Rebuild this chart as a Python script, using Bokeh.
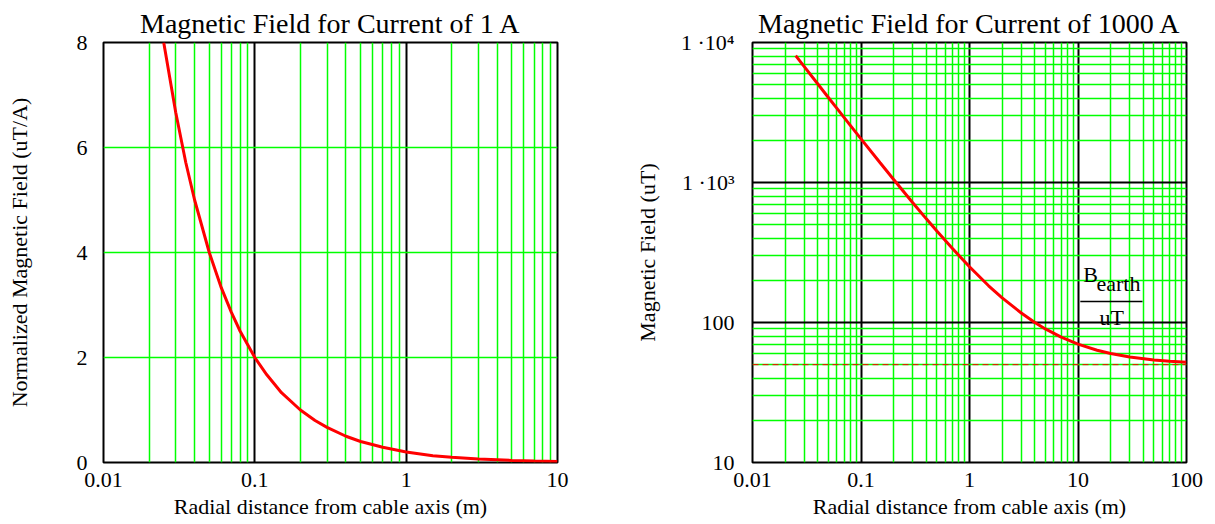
from bokeh.plotting import figure
from bokeh.layouts import row
from bokeh.models import FixedTicker, Label, Span, Range1d
from bokeh.embed import file_html
from bokeh.resources import INLINE

FONT = "Liberation Serif"

# ---------------- data ----------------
# Left panel: normalized field (uT/A) vs radial distance (m)
r_left = [0.025, 0.03, 0.035, 0.04, 0.05, 0.06, 0.07, 0.08, 0.1, 0.12, 0.15,
          0.2, 0.25, 0.3, 0.4, 0.5, 0.7, 1.0, 1.5, 2.0, 3.0, 5.0, 7.0, 10.0]
b_left = [8.0, 6.67, 5.71, 5.0, 4.0, 3.33, 2.86, 2.5, 2.0, 1.67, 1.33,
          1.0, 0.8, 0.67, 0.5, 0.4, 0.29, 0.2, 0.13, 0.1, 0.067, 0.04, 0.029, 0.02]

# Right panel: field (uT) for 1000 A vs radial distance (m)
r_right = [0.025, 0.03, 0.04, 0.05, 0.06, 0.08, 0.1, 0.15, 0.2, 0.3, 0.4, 0.5,
           0.7, 1.0, 1.5, 2.0, 3.0, 4.0, 5.0, 7.0, 10.0, 15.0, 20.0, 30.0,
           50.0, 70.0, 100.0]
b_right = [8050, 6717, 5050, 4050, 3383, 2550, 2050, 1383, 1050, 717, 550, 450,
           336, 250, 183, 150, 117, 100, 90, 78.6, 70, 63.3, 60, 56.7,
           54, 52.9, 52]
b_earth = 50  # uT, dashed reference line

# tick values / labels
x_ticks_left = [0.01, 0.1, 1, 10]
x_labels_left = ["0.01", "0.1", "1", "10"]
y_ticks_left = [0, 2, 4, 6, 8]
x_ticks_right = [0.01, 0.1, 1, 10, 100]
x_labels_right = ["0.01", "0.1", "1", "10", "100"]
y_ticks_right = [10, 100, 1000, 10000]
y_labels_right = ["10", "100", "1 \u00b710\u00b3", "1 \u00b710\u2074"]

GREEN = "#00ff00"
TICK_FS = "22px"
LABEL_FS = "22px"
TITLE_FS = "28px"


def decade_minors(lo_exp, hi_exp):
    return [k * 10.0 ** e for e in range(lo_exp, hi_exp) for k in range(2, 10)]


def style_common(p):
    p.outline_line_color = "black"
    p.outline_line_width = 2
    p.background_fill_color = "white"
    p.border_fill_color = "white"
    p.title.align = "center"
    p.title.text_font = FONT
    p.title.text_font_size = TITLE_FS
    p.title.text_font_style = "normal"
    p.title.text_color = "black"
    p.title.standoff = 8
    for ax in (p.xaxis[0], p.yaxis[0]):
        ax.axis_line_color = None
        ax.major_tick_line_color = None
        ax.minor_tick_line_color = None
        ax.major_label_text_font = FONT
        ax.major_label_text_font_size = TICK_FS
        ax.axis_label_text_font = FONT
        ax.axis_label_text_font_size = LABEL_FS
        ax.axis_label_text_font_style = "normal"
        ax.axis_label_text_color = "black"
        ax.major_label_text_color = "black"
    p.xaxis.major_label_standoff = 4
    p.xaxis.axis_label_standoff = 4


# ---------------- left panel ----------------
p1 = figure(width=600, height=524, x_axis_type="log",
            x_range=Range1d(0.01, 10), y_range=Range1d(0, 8),
            title="Magnetic Field for Current of 1 A",
            output_backend="svg", toolbar_location=None,
            min_border_left=103, min_border_right=43,
            min_border_top=42, min_border_bottom=62)
style_common(p1)
p1.xgrid.ticker = FixedTicker(ticks=[0.1, 1], minor_ticks=decade_minors(-2, 1))
p1.xgrid.grid_line_color = "black"
p1.xgrid.grid_line_width = 2
p1.xgrid.minor_grid_line_color = GREEN
p1.xgrid.minor_grid_line_width = 1.5
p1.ygrid.ticker = FixedTicker(ticks=[2, 4, 6])
p1.ygrid.grid_line_color = GREEN
p1.ygrid.grid_line_width = 1.5

p1.xaxis.ticker = FixedTicker(ticks=x_ticks_left)
p1.xaxis.major_label_overrides = {t: s for t, s in zip(x_ticks_left, x_labels_left)}
p1.xaxis.axis_label = "Radial distance from cable axis (m)"
p1.yaxis.ticker = FixedTicker(ticks=y_ticks_left)
p1.yaxis.axis_label = "Normalized Magnetic Field (uT/A)"
p1.yaxis.major_label_standoff = 10
p1.yaxis.axis_label_standoff = 42

p1.line(r_left, b_left, line_color="red", line_width=3)

# ---------------- right panel ----------------
p2 = figure(width=615, height=524, x_axis_type="log", y_axis_type="log",
            x_range=Range1d(0.01, 100), y_range=Range1d(10, 10000),
            title="Magnetic Field for Current of 1000 A",
            output_backend="svg", toolbar_location=None,
            min_border_left=152, min_border_right=29,
            min_border_top=42, min_border_bottom=62)
style_common(p2)
p2.xgrid.ticker = FixedTicker(ticks=[0.1, 1, 10], minor_ticks=decade_minors(-2, 2))
p2.xgrid.grid_line_color = "black"
p2.xgrid.grid_line_width = 2
p2.xgrid.minor_grid_line_color = GREEN
p2.xgrid.minor_grid_line_width = 1.5
p2.ygrid.ticker = FixedTicker(ticks=[100, 1000], minor_ticks=decade_minors(1, 4))
p2.ygrid.grid_line_color = "black"
p2.ygrid.grid_line_width = 2
p2.ygrid.minor_grid_line_color = GREEN
p2.ygrid.minor_grid_line_width = 1.5

p2.xaxis.ticker = FixedTicker(ticks=x_ticks_right)
p2.xaxis.major_label_overrides = {t: s for t, s in zip(x_ticks_right, x_labels_right)}
p2.xaxis.axis_label = "Radial distance from cable axis (m)"

p2.yaxis.ticker = FixedTicker(ticks=y_ticks_right)
p2.yaxis.major_label_overrides = {t: s for t, s in zip(y_ticks_right, y_labels_right)}
p2.yaxis.axis_label = "Magnetic Field (uT)"
p2.yaxis.major_label_standoff = 12
p2.yaxis.axis_label_standoff = 18

# B_earth reference (dashed)
p2.add_layout(Span(location=b_earth, dimension="width", line_color="red",
                   line_dash="6 4", line_width=1))

# trace-name annotation  B_earth / uT
ann_x_left, ann_x_right, ann_y_bar = 10.5, 39.3, 141
p2.segment(x0=[ann_x_left], y0=[ann_y_bar], x1=[ann_x_right], y1=[ann_y_bar],
           line_color="black", line_width=1.5)
p2.add_layout(Label(x=11.2, y=219, text="B", text_align="left", text_baseline="middle",
                    text_font=FONT, text_font_size="22px", text_color="black"))
p2.add_layout(Label(x=14.8, y=190, text="earth", text_align="left", text_baseline="middle",
                    text_font=FONT, text_font_size="22px", text_color="black"))
p2.add_layout(Label(x=15.8, y=109, text="uT", text_align="left", text_baseline="middle",
                    text_font=FONT, text_font_size="22px", text_color="black"))

p2.line(r_right, b_right, line_color="red", line_width=3)

layout = row(p1, p2)
open("out.html", "w").write(file_html(layout, INLINE))
